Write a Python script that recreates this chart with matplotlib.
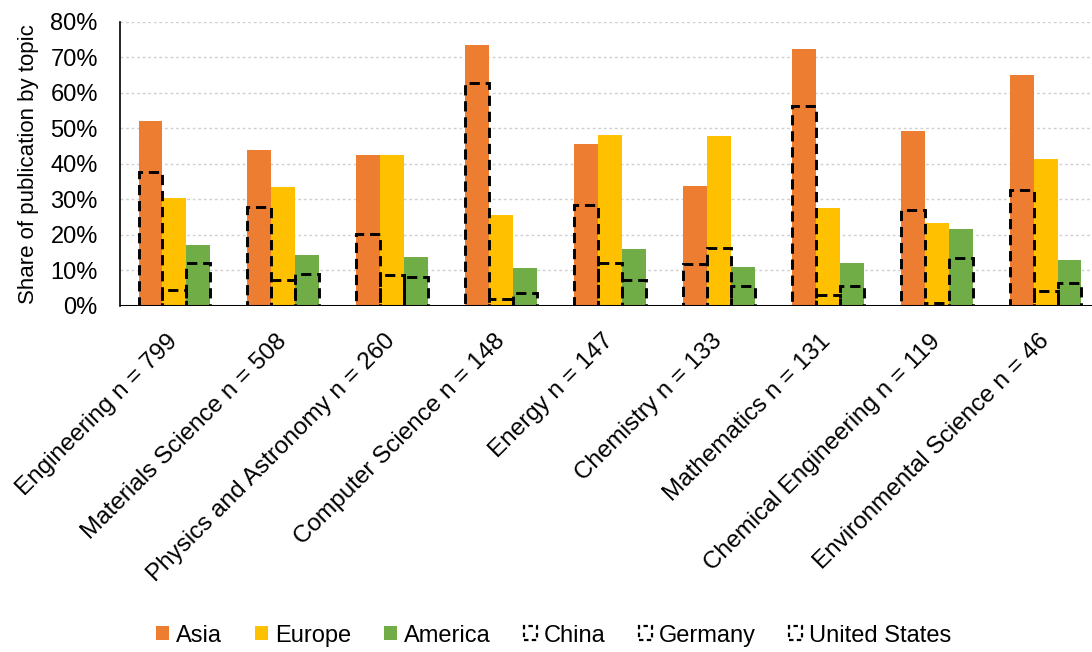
import numpy as np
import matplotlib
matplotlib.use("Agg")
from matplotlib import pyplot as plt
from matplotlib.patches import Patch
from matplotlib.ticker import PercentFormatter

plt.rcParams['font.family'] = ['Liberation Sans', 'DejaVu Sans']

# topics with number of publications
topics = ["Engineering n = 799", "Materials Science n = 508", "Physics and Astronomy n = 260",
          "Computer Science n = 148", "Energy n = 147", "Chemistry n = 133",
          "Mathematics n = 131", "Chemical Engineering n = 119", "Environmental Science n = 46"]

# share of publications (%) per region / country
asia = [52.0, 44.0, 42.5, 73.5, 45.6, 33.7, 72.4, 49.4, 65.0]
europe = [30.5, 33.6, 42.5, 25.5, 48.3, 47.9, 27.6, 23.3, 41.3]
america = [17.2, 14.4, 13.7, 10.7, 16.0, 11.0, 12.1, 21.8, 12.9]
china = [37.6, 28.0, 20.3, 62.9, 28.4, 11.9, 56.3, 26.9, 32.6]
germany = [4.5, 7.2, 8.8, 2.0, 12.2, 16.4, 3.1, 0.8, 4.1]
usa = [12.2, 8.9, 8.1, 3.7, 7.2, 5.5, 5.5, 13.5, 6.5]

c_asia = "#ED7D31"
c_europe = "#FFC000"
c_america = "#70AD47"

fig = plt.figure(figsize=(10.92, 6.52), dpi=100)
ax = fig.add_axes([0.1099, 0.5307, 0.8974, 0.4356])

x = np.arange(len(topics))
w = 0.22
dash = (0, (3.5, 2.0))

ax.bar(x - w, np.array(asia) / 100, w, color=c_asia, zorder=2)
ax.bar(x, np.array(europe) / 100, w, color=c_europe, zorder=2)
ax.bar(x + w, np.array(america) / 100, w, color=c_america, zorder=2)

# country shares drawn as dashed outlines over the region bars
for off, vals in [(-w, china), (0, germany), (w, usa)]:
    ax.bar(x + off, np.array(vals) / 100, w, facecolor="none", edgecolor="black",
           linewidth=2.1, linestyle=dash, zorder=3)

ax.axhline(0, color="black", linewidth=2.2, zorder=4)

ax.set_xlim(-0.5, len(topics) - 0.5)
ax.set_ylim(0, 0.8)
ax.set_yticks(np.arange(0, 0.81, 0.1))
ax.yaxis.set_major_formatter(PercentFormatter(1.0, decimals=0))
ax.yaxis.grid(True, color="#d0d0d0", linestyle=(0, (2, 2)), linewidth=1.0, zorder=0)
ax.set_axisbelow(True)

for s in ["top", "right", "bottom"]:
    ax.spines[s].set_visible(False)
ax.spines["left"].set_color("black")
ax.spines["left"].set_linewidth(1.2)

ax.set_xticks(x)
ax.set_xticklabels(topics, rotation=45, ha="right", va="center", rotation_mode="anchor", fontsize=17.5)
ax.tick_params(axis="x", length=0, pad=23)
ax.tick_params(axis="y", length=0, pad=16, labelsize=17)
ax.set_ylabel("Share of publication by topic", fontsize=16, labelpad=8)

handles = [
    Patch(facecolor=c_asia, edgecolor="none", label="Asia"),
    Patch(facecolor=c_europe, edgecolor="none", label="Europe"),
    Patch(facecolor=c_america, edgecolor="none", label="America"),
    Patch(facecolor="none", edgecolor="black", linestyle=(0, (2, 1.5)), linewidth=1.6, label="China"),
    Patch(facecolor="none", edgecolor="black", linestyle=(0, (2, 1.5)), linewidth=1.6, label="Germany"),
    Patch(facecolor="none", edgecolor="black", linestyle=(0, (2, 1.5)), linewidth=1.6, label="United States"),
]
fig.legend(handles=handles, loc="center", bbox_to_anchor=(0.507, 0.025), ncol=6, frameon=False,
           fontsize=17, handlelength=0.55, handleheight=0.55, handletextpad=0.3,
           columnspacing=1.4)

fig.savefig("out.png", dpi=100)
